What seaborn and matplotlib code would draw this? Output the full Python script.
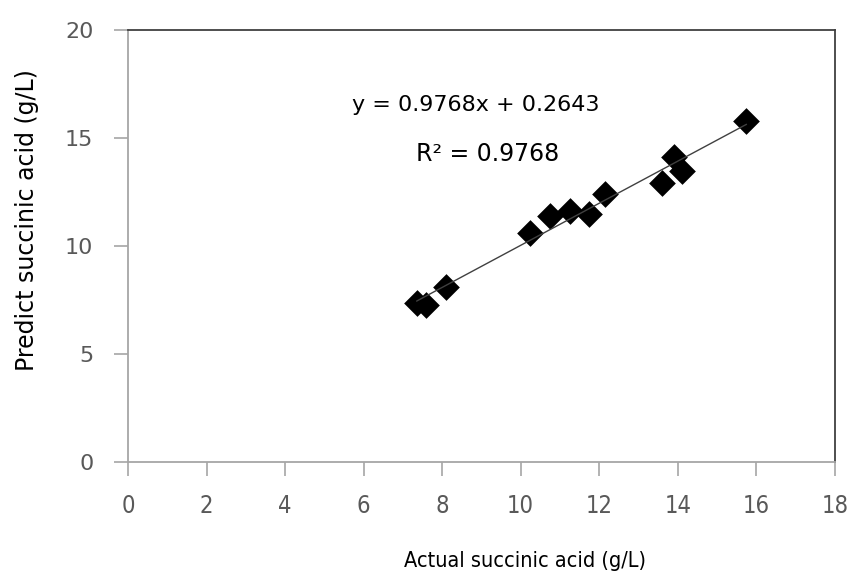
import numpy as np
import pandas as pd
import matplotlib
matplotlib.use("Agg")
import matplotlib.pyplot as plt
import seaborn as sbn

# valores
actual = [7.35, 7.6, 8.1, 10.25, 10.75, 11.25, 11.75, 12.15, 13.6, 13.9, 14.1, 15.75]
predicho = [7.35, 7.25, 8.1, 10.6, 11.4, 11.6, 11.5, 12.4, 12.9, 14.1, 13.45, 15.8]
ecuacion = "y = 0.9768x + 0.2643"
r2 = "R² = 0.9768"
xticks = list(range(0, 19, 2))
yticks = list(range(0, 21, 5))

df = pd.DataFrame({"actual": actual, "predicho": predicho})

sbn.set_style("white")
plt.rcParams["font.family"] = ["DejaVu Sans"]

fig = plt.figure(figsize = (8.51, 5.76), dpi = 100)
ax = fig.add_axes([0.1504, 0.1984, 0.8306, 0.7494])

sbn.regplot(data = df, x = "actual", y = "predicho", ci = None, ax = ax,
            marker = "D",
            scatter_kws = {"s": 185, "color": "black", "linewidths": 0, "alpha": 1, "zorder": 2},
            line_kws = {"color": "#404040", "lw": 1, "zorder": 3})

ax.set_xlim(0, 18)
ax.set_ylim(0, 20)
ax.set_xticks(xticks)
ax.set_yticks(yticks)
ax.tick_params(axis = "both", direction = "out", length = 10, width = 1.2,
               bottom = True, left = True,
               color = "#a6a6a6", labelcolor = "#595959", labelsize = 16)
ax.tick_params(axis = "y", pad = 15)
ax.tick_params(axis = "x", pad = 13, labelsize = 17)
for etiqueta in ax.get_xticklabels():
    etiqueta.set_fontstretch("condensed")

for lado in ["left", "bottom"]:
    ax.spines[lado].set_color("#a6a6a6")
    ax.spines[lado].set_linewidth(1.3)
for lado in ["top", "right"]:
    ax.spines[lado].set_color("#404040")
    ax.spines[lado].set_linewidth(1.3)

ax.text(8.85, 16.55, ecuacion, ha = "center", va = "center", fontsize = 16, color = "black")
ax.text(9.15, 14.25, r2, ha = "center", va = "center", fontsize = 17, color = "black")

ax.set_xlabel("Actual succinic acid (g/L)", fontsize = 15.5, color = "black",
              fontstretch = "condensed")
ax.xaxis.set_label_coords(0.5615, -0.206)
ax.set_ylabel("Predict succinic acid (g/L)", fontsize = 17, color = "black")
ax.yaxis.set_label_coords(-0.126, 0.559)

fig.savefig("out.png", dpi = 100)
plt.close()
